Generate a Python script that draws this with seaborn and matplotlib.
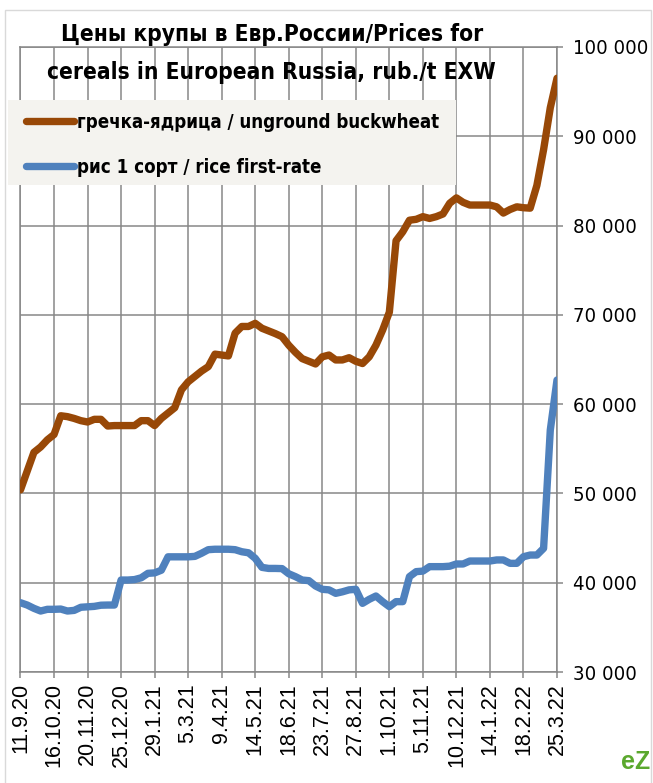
import numpy as np
import pandas as pd
import matplotlib
matplotlib.use("Agg")
import matplotlib.pyplot as plt
import seaborn as sns
from matplotlib.patches import Rectangle
from matplotlib.lines import Line2D

# ---------------- data ----------------
date_labels = ["11.9.20", "16.10.20", "20.11.20", "25.12.20", "29.1.21", "5.3.21",
               "9.4.21", "14.5.21", "18.6.21", "23.7.21", "27.8.21", "1.10.21",
               "5.11.21", "10.12.21", "14.1.22", "18.2.22", "25.3.22"]
weeks = list(range(81))  # weekly observations 11.9.20 .. 25.3.22

buckwheat = [50400, 52500, 54600, 55200, 56000, 56600, 58700, 58600, 58400, 58150,
             58000, 58300, 58300, 57550, 57600, 57600, 57600, 57600, 58150, 58150,
             57600, 58400, 59000, 59600, 61600, 62500, 63100, 63700, 64200, 65600,
             65500, 65400, 67950, 68700, 68700, 69050, 68500, 68200, 67900, 67550,
             66600, 65800, 65100, 64800, 64500, 65300, 65500, 64950, 64950, 65200,
             64800, 64550, 65300, 66600, 68300, 70300, 78300, 79300, 80600, 80700,
             81000, 80800, 81000, 81300, 82500, 83100, 82600, 82300, 82300, 82300,
             82300, 82100, 81400, 81800, 82100, 82000, 81950, 84500, 88500, 93200,
             96500]

rice = [37760, 37500, 37130, 36830, 37020, 37020, 37050, 36830, 36900, 37250,
        37300, 37350, 37480, 37500, 37500, 40300, 40300, 40350, 40550, 41050,
        41100, 41400, 42900, 42900, 42900, 42900, 42950, 43300, 43700, 43750,
        43750, 43750, 43700, 43470, 43350, 42730, 41720, 41600, 41600, 41580,
        41000, 40680, 40300, 40230, 39630, 39260, 39200, 38810, 38980, 39200,
        39260, 37690, 38140, 38510, 37880, 37320, 37880, 37880, 40680, 41240,
        41300, 41800, 41800, 41800, 41850, 42100, 42100, 42430, 42430, 42430,
        42430, 42550, 42550, 42170, 42170, 42910, 43100, 43100, 43850, 57100,
        62700]

series_names = ["гречка-ядрица / unground buckwheat", "рис 1 сорт / rice first-rate"]
series_colors = ["#984807", "#4F81BD"]
y_ticks = [30000, 40000, 50000, 60000, 70000, 80000, 90000, 100000]
title_lines = ["Цены крупы в Евр.России/Prices for",
               "cereals in European Russia, rub./t EXW"]

# ---------------- figure ----------------
W, H = 653, 783
fig = plt.figure(figsize=(W / 100, H / 100), dpi=100)
fig.patch.set_facecolor("white")

def fx(px):
    return px / W

def fy(py):
    return 1 - py / H

COND = ["DejaVu Sans"]
ARIAL = ["Liberation Sans", "DejaVu Sans"]

ax = fig.add_axes([fx(20.5), fy(672), fx(557) - fx(20.5), fy(47) - fy(672)])

df = pd.DataFrame({
    "week": weeks + weeks,
    "price": buckwheat + rice,
    "series": [series_names[0]] * len(weeks) + [series_names[1]] * len(weeks),
})
sns.lineplot(data=df, x="week", y="price", hue="series", hue_order=series_names,
             palette=dict(zip(series_names, series_colors)), linewidth=5.3,
             legend=False, ax=ax, sort=False, zorder=3)
for ln in ax.lines:
    ln.set_solid_capstyle("round")
    ln.set_solid_joinstyle("round")

ax.set_xlim(0, 80)
ax.set_ylim(30000, 100000)
ax.set_xticks(range(0, 81, 5))
ax.set_xticklabels(date_labels, rotation=90, family=ARIAL, fontsize=15.5)
ax.set_yticks(y_ticks)
ax.set_yticklabels([f"{v:,}".replace(",", " ") for v in y_ticks], family=COND,
                   fontstretch="condensed", fontsize=14.6)
ax.yaxis.tick_right()
ax.set_xlabel("")
ax.set_ylabel("")
ax.set_axisbelow(True)
ax.grid(True, color="#878787", linewidth=1.1)
ax.tick_params(axis="x", direction="out", length=4, width=1.1, color="#878787", pad=4)
ax.tick_params(axis="y", direction="out", length=4.5, width=1.1, color="#878787", pad=7,
               left=False, right=True, labelleft=False, labelright=True)
for sp in ax.spines.values():
    sp.set_color("#878787")
    sp.set_linewidth(1.1)

# chart border
fig.add_artist(Rectangle((fx(5), fy(800)), fx(651) - fx(5), fy(10) - fy(800),
                         transform=fig.transFigure, fill=False, ec="#D9D9D9", lw=1, zorder=1))

# legend background
fig.add_artist(Rectangle((fx(8), fy(185)), fx(456) - fx(8), fy(100) - fy(185),
                         transform=fig.transFigure, fc="#F4F3EF", ec="none", zorder=2))

handles = [Line2D([], [], color=c, lw=5.3, solid_capstyle="round") for c in series_colors]
fig.legend(handles, series_names, loc="upper left", bbox_to_anchor=(fx(26), fy(113)),
           frameon=False,
           prop={"family": COND, "size": 13.4, "weight": "bold", "stretch": "condensed"},
           handlelength=2.6, handletextpad=0.15, labelspacing=1.38,
           borderpad=0, borderaxespad=0)

# title
fig.text(fx(272), fy(35), title_lines[0], ha="center", va="center",
         family=COND, fontstretch="condensed", fontsize=16.3, fontweight="bold", zorder=4)
fig.text(fx(271), fy(72), title_lines[1], ha="center", va="center",
         family=COND, fontstretch="condensed", fontsize=16.3, fontweight="bold", zorder=4)

# logo mark
fig.text(fx(636), fy(762), "eZ", ha="center", va="center", color="#5BA82E",
         fontsize=18, fontweight="bold", family=ARIAL, zorder=4)

fig.savefig("out.png", dpi=100)
